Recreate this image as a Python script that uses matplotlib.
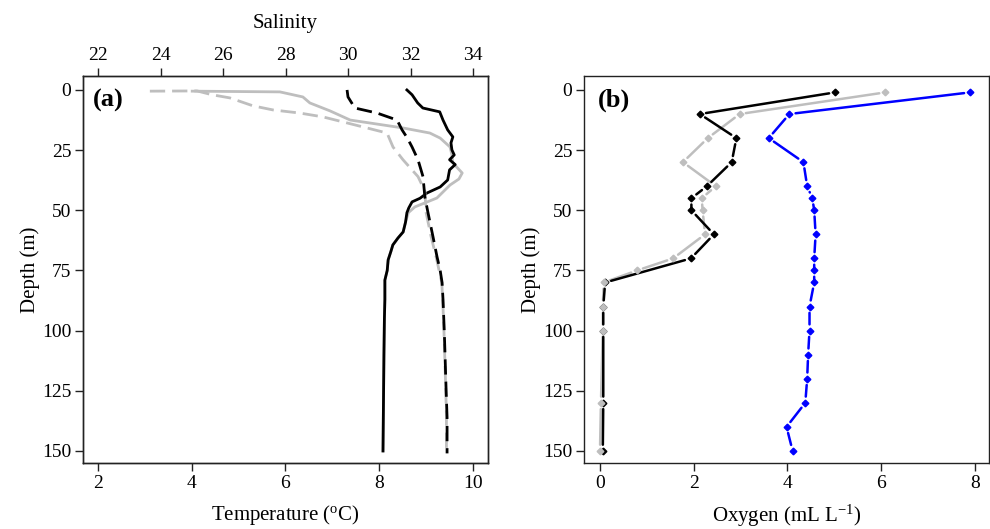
import matplotlib
matplotlib.use("Agg")
import matplotlib.pyplot as plt

# ---------------- data (panel a) ----------------
temp_black_depth = [0, 2, 5.4, 7.5, 9.1, 12.5, 16.6, 19.5, 22, 24.9, 27, 29, 31, 33.2, 37.4, 40.3,
                    42.8, 45, 46.5, 49, 51, 55, 59, 61.5, 64.4, 67, 70.6, 75, 79, 87, 95, 110, 130, 150]
temp_black = [8.59, 8.70, 8.82, 8.93, 9.29, 9.36, 9.46, 9.57, 9.53, 9.55, 9.60, 9.50, 9.62, 9.50, 9.46, 9.30,
              9.02, 8.87, 8.70, 8.63, 8.59, 8.56, 8.51, 8.40, 8.29, 8.25, 8.19, 8.17, 8.12, 8.12, 8.11, 8.10, 8.09, 8.08]

temp_gray_depth = [0.5, 0.8, 2.9, 5.4, 8.7, 12.5, 15.8, 17.9, 20, 23.7, 27, 30.3, 34.5, 37, 39.5, 42, 44.9,
                   48.6, 51, 55, 59, 61.5, 64.4, 67, 70.6, 75, 79, 87, 95, 110, 130, 150]
temp_gray = [4.01, 5.88, 6.37, 6.52, 6.95, 7.38, 8.51, 9.08, 9.30, 9.51, 9.55, 9.57, 9.77, 9.70, 9.51, 9.38, 9.23,
             8.76, 8.62, 8.56, 8.51, 8.40, 8.29, 8.25, 8.19, 8.17, 8.12, 8.12, 8.11, 8.10, 8.09, 8.08]

sal_black_depth = [0, 2.9, 5, 7.5, 9.6, 12.5, 16.6, 20, 23.7, 29, 36, 44.5, 51, 61, 69.4, 75, 80, 87,
                   100, 108, 125, 136, 151]
sal_black = [29.97, 30.0, 30.1, 30.22, 30.93, 31.57, 31.73, 31.9, 32.05, 32.24, 32.40, 32.46, 32.56, 32.72,
             32.85, 32.95, 33.01, 33.04, 33.08, 33.10, 33.14, 33.17, 33.17]

sal_gray_depth = [0.5, 0.4, 2, 3.3, 6.6, 8.3, 9.6, 11.2, 13.7, 15.8, 17.9, 23.7, 29, 36, 42, 51, 61, 69.4,
                  80, 87, 100, 108, 125, 136, 151]
sal_gray = [23.66, 25.17, 25.65, 26.22, 26.96, 27.60, 28.46, 29.20, 29.97, 30.61, 31.25, 31.44, 31.76, 32.24,
            32.46, 32.50, 32.66, 32.82, 33.00, 33.03, 33.07, 33.09, 33.13, 33.15, 33.15]

# ---------------- data (panel b) ----------------
oxy_black_depth = [1, 10, 20, 30, 40, 45, 50, 60, 70, 80, 90, 100, 130, 150]
oxy_black = [5.02, 2.13, 2.91, 2.81, 2.28, 1.95, 1.95, 2.43, 1.94, 0.11, 0.07, 0.07, 0.07, 0.06]

oxy_gray_depth = [1, 10, 20, 30, 40, 45, 50, 60, 70, 75, 80, 90, 100, 130, 150]
oxy_gray = [6.09, 2.98, 2.30, 1.77, 2.47, 2.17, 2.19, 2.24, 1.56, 0.79, 0.08, 0.06, 0.06, 0.02, 0.0]

oxy_blue_depth = [1, 10, 20, 30, 40, 45, 50, 60, 70, 75, 80, 90, 100, 110, 120, 130, 140, 150]
oxy_blue = [7.90, 4.04, 3.60, 4.34, 4.42, 4.53, 4.57, 4.60, 4.57, 4.57, 4.57, 4.47, 4.47, 4.44, 4.42,
            4.38, 3.98, 4.11]

depth_ticks = [0, 25, 50, 75, 100, 125, 150]
temp_ticks = [2, 4, 6, 8, 10]
sal_ticks = [22, 24, 26, 28, 30, 32, 34]
oxy_ticks = [0, 2, 4, 6, 8]

# ---------------- style ----------------
plt.rcParams['font.family'] = ['Liberation Serif', 'DejaVu Serif']
plt.rcParams['mathtext.fontset'] = 'custom'
plt.rcParams['mathtext.rm'] = 'Liberation Serif'
plt.rcParams['mathtext.it'] = 'Liberation Serif:italic'

GRAY = '#BEBEBE'
TICK_FS = 14
LAB_FS = 15

W, H = 990, 529
fig = plt.figure(figsize=(W / 100, H / 100), dpi=100)
axa = fig.add_axes([83 / W, 1 - 463 / H, 405 / W, 387 / H])
axb = fig.add_axes([584 / W, 1 - 463 / H, 405 / W, 387 / H])

for ax in (axa, axb):
    for s in ax.spines.values():
        s.set_linewidth(1.0)
        s.set_color('#222222')
    ax.tick_params(direction='out', length=6, width=1.0, labelsize=TICK_FS, colors='#222222',
                   labelcolor='black', pad=2.5)
    ax.set_yticks(depth_ticks)
    ax.set_ylim(155, -5.8)
    ax.set_ylabel('Depth (m)', fontsize=LAB_FS, labelpad=1)

# ---- panel a ----
axa.plot(temp_gray, temp_gray_depth, color=GRAY, lw=2.0, zorder=2)
axa.plot(temp_black, temp_black_depth, color='black', lw=2.0, zorder=3)
axa.set_xlim(1.68, 10.32)
axa.set_xticks(temp_ticks)
axa.set_xlabel('Temperature ($^{\\mathrm{o}}$C)', fontsize=LAB_FS, labelpad=8)

axs = axa.twiny()
axs.plot(sal_gray, sal_gray_depth, color=GRAY, lw=2.0, dashes=(5.5, 2.5), zorder=2)
axs.plot(sal_black, sal_black_depth, color='black', lw=2.0, dashes=(5.5, 2.5), zorder=3)
axs.set_xlim(21.52, 34.48)
axs.set_xticks(sal_ticks)
axs.set_ylim(155, -5.8)
axs.tick_params(direction='out', length=6, width=1.0, labelsize=TICK_FS, colors='#222222',
                labelcolor='black', pad=2.5)
axs.set_xlabel('Salinity', fontsize=LAB_FS, labelpad=14)
for s in axs.spines.values():
    s.set_linewidth(1.0)
    s.set_color('#222222')

axa.text(0.025, 0.938, '(a)', transform=axa.transAxes, fontsize=19, fontweight='bold',
         va='center', ha='left')

# ---- panel b ----
def type_b(ax, x, y, color, z):
    for i in range(len(x) - 1):
        ax.annotate('', xy=(x[i + 1], y[i + 1]), xytext=(x[i], y[i]), xycoords='data',
                    arrowprops=dict(arrowstyle='-', color=color, lw=1.8,
                                    shrinkA=4.5, shrinkB=4.5), zorder=z)

type_b(axb, oxy_gray, oxy_gray_depth, GRAY, 2)
type_b(axb, oxy_black, oxy_black_depth, 'black', 3)
type_b(axb, oxy_blue, oxy_blue_depth, 'blue', 4)
axb.plot(oxy_black, oxy_black_depth, ls='none', marker='D', ms=3.4, color='black', zorder=5)
axb.plot(oxy_gray, oxy_gray_depth, ls='none', marker='D', ms=3.4, color=GRAY, zorder=6)
axb.plot(oxy_blue, oxy_blue_depth, ls='none', marker='D', ms=3.4, color='blue', zorder=7)

axb.set_xlim(-0.341, 8.299)
axb.set_xticks(oxy_ticks)
axb.set_xlabel('Oxygen (mL L$^{\\mathrm{-1}}$)', fontsize=LAB_FS, labelpad=8)
axb.text(0.035, 0.938, '(b)', transform=axb.transAxes, fontsize=19, fontweight='bold',
         va='center', ha='left')

fig.savefig('out.png', dpi=100)
